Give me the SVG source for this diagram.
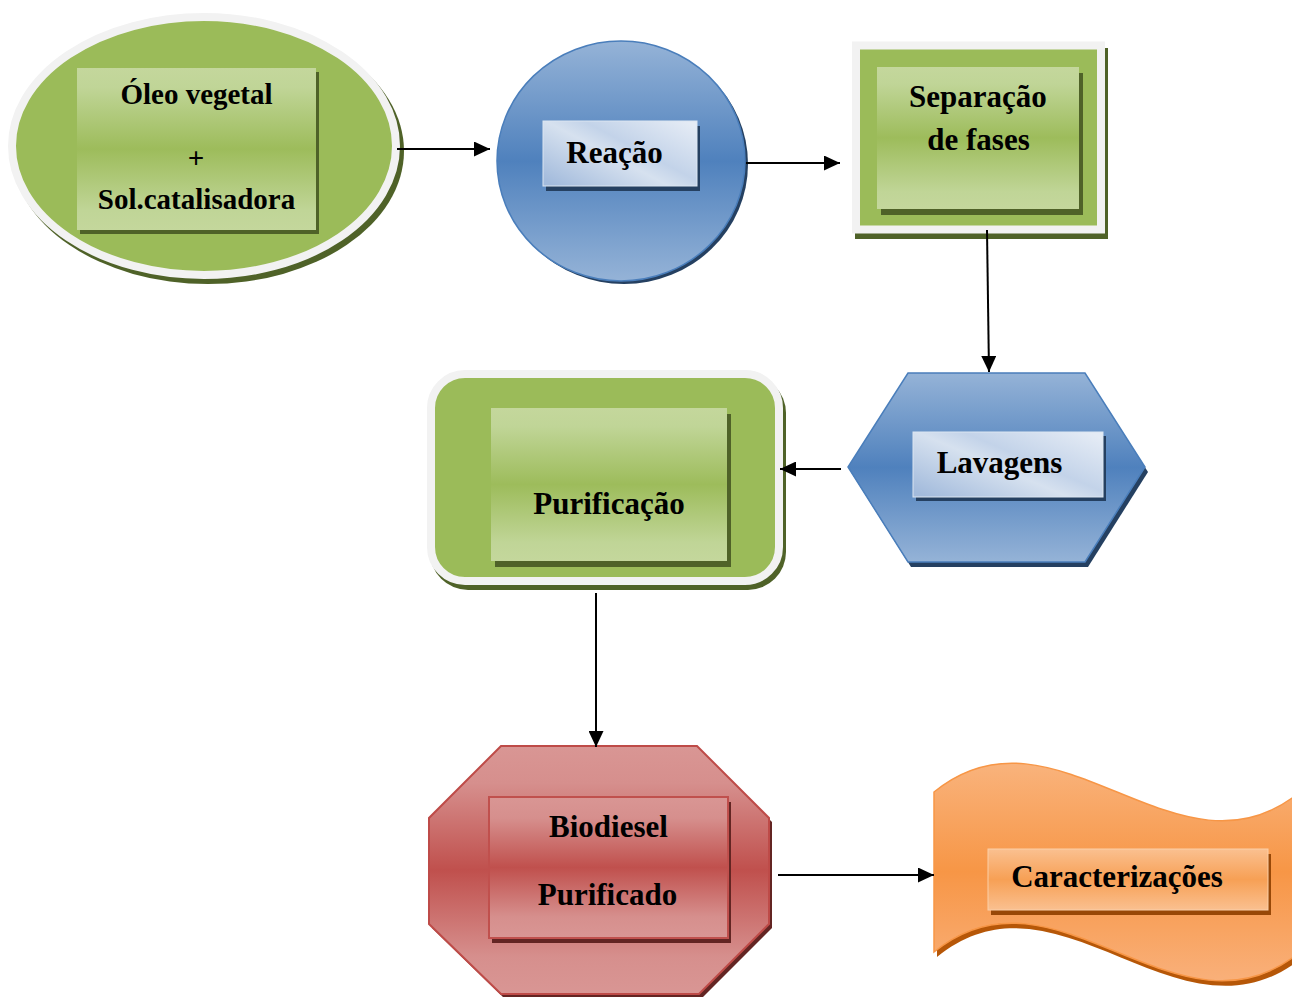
<svg xmlns="http://www.w3.org/2000/svg" width="1292" height="997" viewBox="0 0 1292 997">
<style>
.t{font-family:"Liberation Serif","Times New Roman",serif;font-weight:bold;font-size:31px;fill:#000;text-anchor:middle}
.s{font-size:29px}
.con{stroke:#000;stroke-width:2;fill:none;marker-end:url(#ah)}
.gshadow{fill:#4F6228}
.bshadow{fill:#254061}
.rshadow{fill:#632523}
.oshadow{fill:#984807}
</style>
<defs>
<marker id="ah" markerUnits="userSpaceOnUse" markerWidth="17" markerHeight="15" refX="16" refY="7.5" orient="auto">
<path d="M0,0 L16,7.5 L0,15 Z" fill="#000"/>
</marker>
<linearGradient id="gIn" x1="0" y1="0" x2="0" y2="1">
<stop offset="0" stop-color="#C4D79C"/>
<stop offset="0.12" stop-color="#C0D597"/>
<stop offset="0.5" stop-color="#9DBC5B"/>
<stop offset="0.88" stop-color="#C0D597"/>
<stop offset="1" stop-color="#C4D79C"/>
</linearGradient>
<linearGradient id="bOut" x1="0" y1="0" x2="0" y2="1">
<stop offset="0" stop-color="#95B3D7"/>
<stop offset="0.5" stop-color="#4F81BD"/>
<stop offset="1" stop-color="#95B3D7"/>
</linearGradient>
<linearGradient id="bIn" x1="0" y1="0.9" x2="1" y2="0.1">
<stop offset="0" stop-color="#A3BBDC"/>
<stop offset="0.45" stop-color="#D6E1EF"/>
<stop offset="0.6" stop-color="#C3D3E9"/>
<stop offset="1" stop-color="#E4EBF5"/>
</linearGradient>
<linearGradient id="rOut" x1="0" y1="0" x2="0" y2="1">
<stop offset="0" stop-color="#D99694"/>
<stop offset="0.15" stop-color="#D68F8D"/>
<stop offset="0.5" stop-color="#C0504D"/>
<stop offset="0.85" stop-color="#D68F8D"/>
<stop offset="1" stop-color="#D99694"/>
</linearGradient>
<linearGradient id="oOut" x1="0" y1="0" x2="0" y2="1">
<stop offset="0" stop-color="#F9B37C"/>
<stop offset="0.5" stop-color="#F79646"/>
<stop offset="1" stop-color="#F9B07A"/>
</linearGradient>
<linearGradient id="oIn" x1="0" y1="0" x2="0" y2="1">
<stop offset="0" stop-color="#FAC090"/>
<stop offset="0.5" stop-color="#F7A055"/>
<stop offset="1" stop-color="#FAC090"/>
</linearGradient>
</defs>

<g id="node-oleo">
<ellipse class="gshadow" cx="208" cy="151" rx="196" ry="133"/>
<ellipse cx="204" cy="146" rx="192" ry="129" fill="#9BBB59" stroke="#F2F2F2" stroke-width="8"/>
<rect class="gshadow" x="80" y="72" width="239" height="162"/>
<rect x="77" y="68" width="239" height="162" fill="url(#gIn)"/>
<text class="t s" x="196.5" y="104">Óleo vegetal</text>
<text class="t s" x="196" y="168">+</text>
<text class="t s" x="196.5" y="209">Sol.catalisadora</text>
</g>

<g id="node-reacao">
<ellipse class="bshadow" cx="624" cy="164" rx="124" ry="120"/>
<ellipse cx="621" cy="161" rx="124" ry="120" fill="url(#bOut)" stroke="#4A7EBB" stroke-width="1.5"/>
<rect class="bshadow" x="546" y="126" width="154" height="65"/>
<rect x="543" y="121" width="154" height="65" fill="url(#bIn)" stroke="#DCE6F2" stroke-width="1"/>
<text class="t" x="614.5" y="163">Reação</text>
</g>

<g id="node-separacao">
<rect class="gshadow" x="855" y="48" width="253" height="191"/>
<rect x="856" y="45.5" width="245" height="184" fill="#9BBB59" stroke="#F2F2F2" stroke-width="8"/>
<rect class="gshadow" x="881" y="73" width="202" height="142"/>
<rect x="877" y="67" width="202" height="142" fill="url(#gIn)"/>
<text class="t" x="978" y="107">Separação</text>
<text class="t" x="978.5" y="150">de fases</text>
</g>

<g id="node-lavagens">
<polygon class="bshadow" points="911,378 1088,378 1148,472 1088,567 911,567 851,472"/>
<polygon points="908,373 1085,373 1145,467 1085,562 908,562 848,467" fill="url(#bOut)" stroke="#4A7EBB" stroke-width="1.5"/>
<rect class="bshadow" x="916" y="436" width="190" height="65"/>
<rect x="913" y="432" width="190" height="65" fill="url(#bIn)" stroke="#DCE6F2" stroke-width="1"/>
<text class="t" x="999.5" y="473">Lavagens</text>
</g>

<g id="node-purificacao">
<rect class="gshadow" x="430" y="375" width="356" height="215" rx="38"/>
<rect x="431" y="374" width="348" height="207" rx="34" fill="#9BBB59" stroke="#F2F2F2" stroke-width="8"/>
<rect class="gshadow" x="495" y="414" width="236" height="153"/>
<rect x="491" y="408" width="236" height="153" fill="url(#gIn)"/>
<text class="t" x="609" y="514">Purificação</text>
</g>

<g id="node-biodiesel">
<polygon class="rshadow" points="504,750 700,750 772,822 772,928 702,998 504,998 432,928 432,822"/>
<polygon points="501,746 697,746 769,818 769,924 699,994 501,994 429,924 429,818" fill="url(#rOut)" stroke="#BE4B48" stroke-width="2"/>
<rect class="rshadow" x="492" y="802" width="239" height="141"/>
<rect x="489" y="797" width="239" height="141" fill="url(#rOut)" stroke="#C0504D" stroke-width="2"/>
<text class="t" x="608.5" y="837">Biodiesel</text>
<text class="t" x="607.5" y="905">Purificado</text>
</g>

<g id="node-caracterizacoes">
<path d="M937,796 C1059,696 1181,896 1303,796 L1303,957 C1181,1057 1059,857 937,957 Z" fill="#B65708"/>
<path d="M934,792 C1056,692 1178,892 1300,792 L1300,952 C1178,1052 1056,852 934,952 Z" fill="url(#oOut)" stroke="#F79646" stroke-width="1.5"/>
<rect class="oshadow" x="991" y="854" width="280" height="61"/>
<rect x="988" y="849" width="280" height="61" fill="url(#oIn)" stroke="#FBCFA8" stroke-width="1"/>
<text class="t" x="1117" y="887">Caracterizações</text>
</g>

<g id="connectors">
<line class="con" x1="397" y1="149" x2="490" y2="149"/>
<line class="con" x1="746" y1="163" x2="840" y2="163"/>
<line class="con" x1="987" y1="230" x2="989" y2="372"/>
<line class="con" x1="841" y1="469" x2="780" y2="469"/>
<line class="con" x1="596" y1="593" x2="596" y2="747"/>
<line class="con" x1="778" y1="875" x2="934" y2="875"/>
</g>
</svg>
